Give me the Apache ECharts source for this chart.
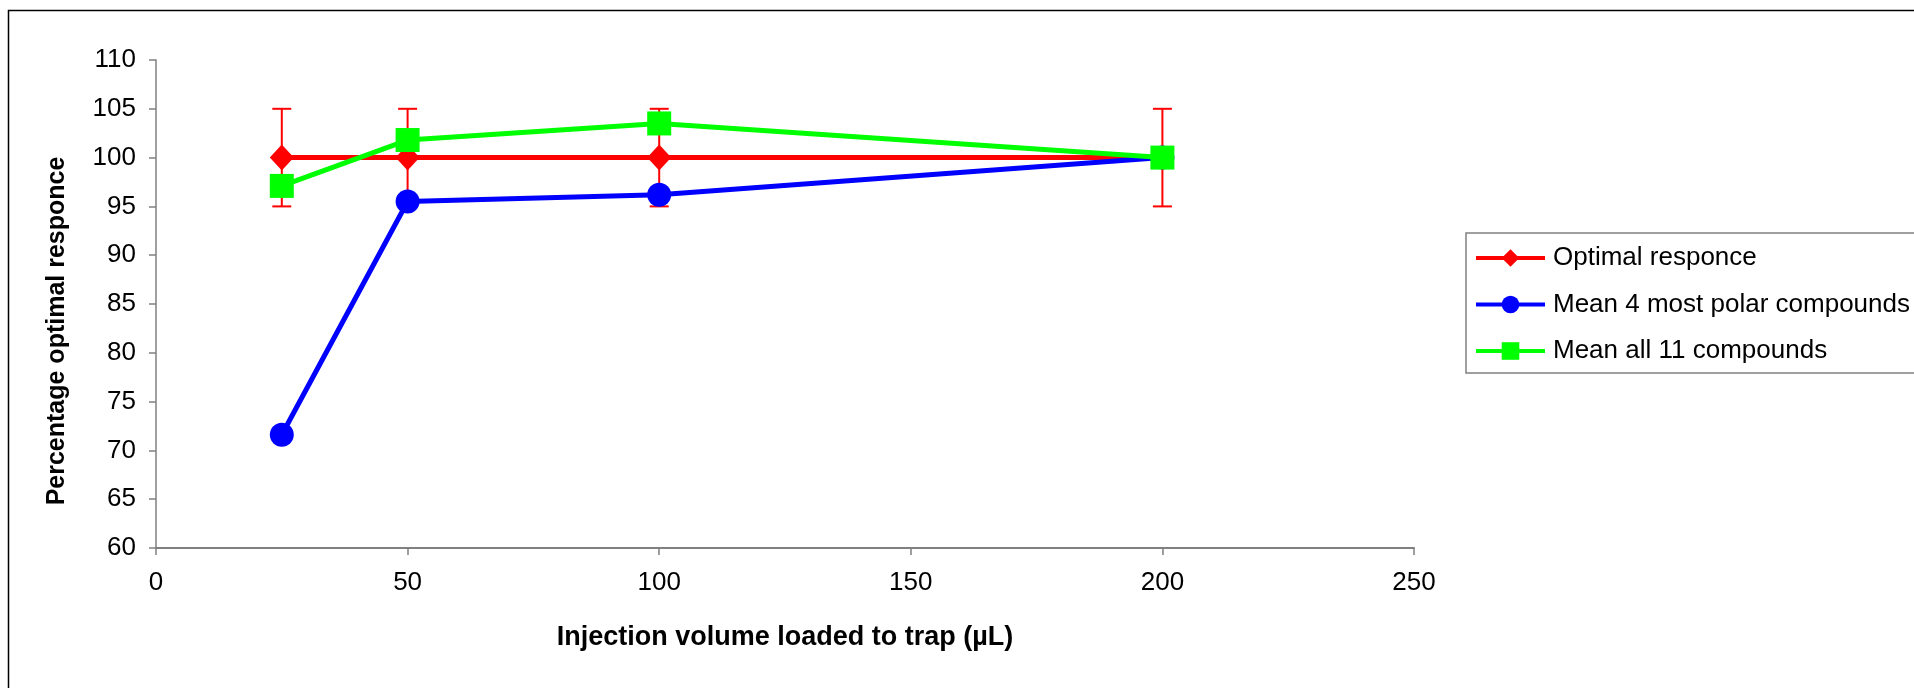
<!DOCTYPE html>
<html>
<head>
<meta charset="utf-8">
<title>Injection volume vs response</title>
<script src="https://cdn.jsdelivr.net/npm/echarts@6/dist/echarts.min.js"></script>
<style>
  html, body { margin: 0; padding: 0; background: #fff; }
  #chart { width: 1914px; height: 688px; }
</style>
</head>
<body>
<div id="chart"></div>
<script>
// data
const volumes = [25, 50, 100, 200];
const optimal = [100, 100, 100, 100];
const optimalErr = [5, 5, 5, 5];
const polar4 = [71.6, 95.5, 96.2, 100];
const all11 = [97.1, 101.8, 103.5, 100];

const xTicks = [0, 50, 100, 150, 200, 250];
const yTicks = [60, 65, 70, 75, 80, 85, 90, 95, 100, 105, 110];

const FONT = '"Liberation Sans", Arial, sans-serif';

const chart = echarts.init(document.getElementById('chart'));

function pairs(ys) {
  return volumes.map((v, i) => [v, ys[i]]);
}

const option = {
  backgroundColor: '#fff',
  animation: false,
  textStyle: { fontFamily: FONT, color: '#000' },
  graphic: [
    {
      // outer chart-area frame (runs off the right and bottom edges)
      type: 'rect',
      shape: { x: 8.5, y: 10.5, width: 2000, height: 800 },
      style: { fill: 'none', stroke: '#000', lineWidth: 1.5 },
      silent: true
    }
  ],
  grid: {
    left: 156,
    top: 60,
    right: 1914 - 1414,
    bottom: 688 - 548,
    containLabel: false
  },
  legend: {
    orient: 'vertical',
    left: 1466,
    top: 233,
    padding: [12, 8, 9, 8],
    itemWidth: 69,
    itemHeight: 22,
    itemGap: 20.5,
    borderColor: '#808080',
    borderWidth: 1.5,
    lineStyle: { width: 4 },
    textStyle: { fontFamily: FONT, fontSize: 26, color: '#000', padding: [0, 0, 0, 3] },
    data: ['Optimal responce', 'Mean 4 most polar compounds', 'Mean all 11 compounds']
  },
  xAxis: {
    type: 'value',
    min: 0,
    max: 250,
    interval: 50,
    name: 'Injection volume loaded to trap (µL)',
    nameLocation: 'middle',
    nameGap: 76,
    nameTextStyle: { fontFamily: FONT, fontSize: 27, fontWeight: 'bold', color: '#000' },
    axisLine: { lineStyle: { color: '#808080', width: 2 } },
    axisTick: { show: true, length: 7, lineStyle: { color: '#808080', width: 1.5 } },
    axisLabel: {
      fontFamily: FONT, fontSize: 26, color: '#000', margin: 22,
      formatter: v => (xTicks.includes(v) ? String(v) : '')
    },
    splitLine: { show: false }
  },
  yAxis: {
    type: 'value',
    min: 60,
    max: 110,
    interval: 5,
    name: 'Percentage optimal responce',
    nameLocation: 'middle',
    nameRotate: 90,
    nameGap: 86,
    nameTextStyle: {
      fontFamily: FONT, fontSize: 25, fontWeight: 'bold', color: '#000',
      padding: [0, 54, 0, 0]
    },
    axisLine: { show: true, lineStyle: { color: '#808080', width: 1.5 } },
    axisTick: { show: true, length: 7, lineStyle: { color: '#808080', width: 1.5 } },
    axisLabel: {
      fontFamily: FONT, fontSize: 26, color: '#000', margin: 20,
      formatter: v => (yTicks.includes(v) ? String(v) : '')
    },
    splitLine: { show: false }
  },
  series: [
    {
      // error bars of the optimal response
      type: 'custom',
      name: 'err',
      z: 1,
      silent: true,
      data: volumes.map((v, i) => [v, optimal[i] - optimalErr[i], optimal[i] + optimalErr[i]]),
      renderItem: function (params, api) {
        const lo = api.coord([api.value(0), api.value(1)]);
        const hi = api.coord([api.value(0), api.value(2)]);
        const cap = 9.5;
        const style = { stroke: '#ff0000', lineWidth: 2 };
        return {
          type: 'group',
          children: [
            { type: 'line', shape: { x1: lo[0], y1: lo[1], x2: hi[0], y2: hi[1] }, style: style },
            { type: 'line', shape: { x1: lo[0] - cap, y1: lo[1], x2: lo[0] + cap, y2: lo[1] }, style: style },
            { type: 'line', shape: { x1: hi[0] - cap, y1: hi[1], x2: hi[0] + cap, y2: hi[1] }, style: style }
          ]
        };
      }
    },
    {
      name: 'Optimal responce',
      type: 'line',
      z: 2,
      data: pairs(optimal),
      symbol: 'diamond',
      symbolSize: [24, 26],
      itemStyle: { color: '#ff0000' },
      lineStyle: { color: '#ff0000', width: 5 }
    },
    {
      name: 'Mean 4 most polar compounds',
      type: 'line',
      z: 3,
      data: pairs(polar4),
      symbol: 'circle',
      symbolSize: 24,
      itemStyle: { color: '#0000ff' },
      lineStyle: { color: '#0000ff', width: 5 }
    },
    {
      name: 'Mean all 11 compounds',
      type: 'line',
      z: 4,
      data: pairs(all11),
      symbol: 'rect',
      symbolSize: 24,
      itemStyle: { color: '#00ff00' },
      lineStyle: { color: '#00ff00', width: 5 }
    }
  ]
};

chart.setOption(option);
</script>
</body>
</html>
